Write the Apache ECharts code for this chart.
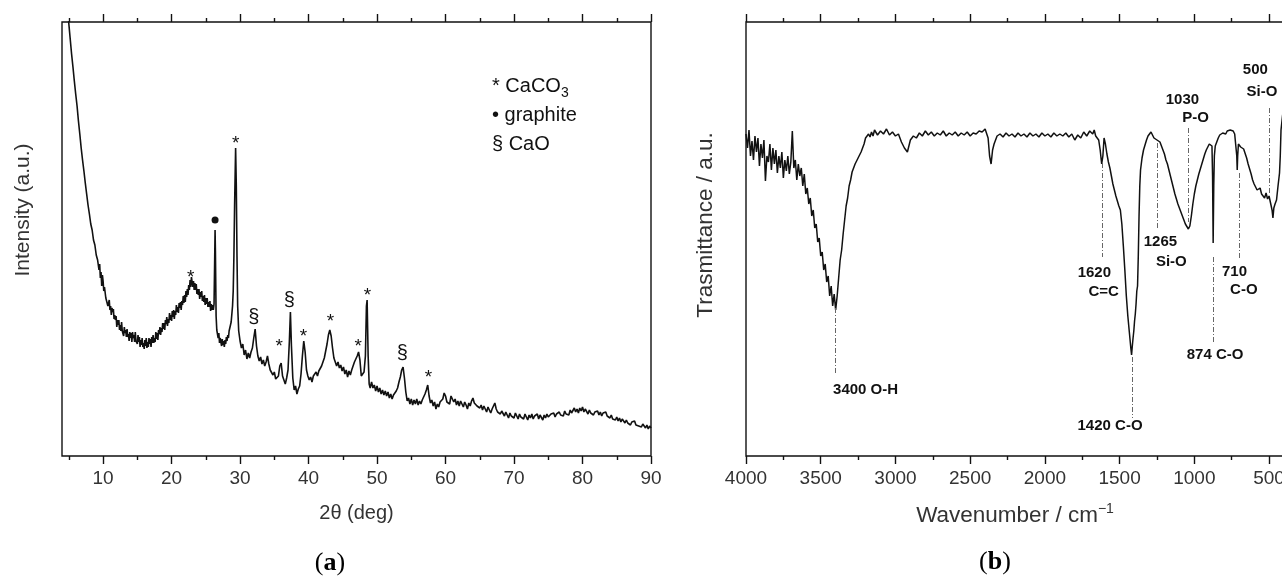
<!DOCTYPE html>
<html>
<head>
<meta charset="utf-8">
<title>XRD and FTIR</title>
<script src="https://cdn.jsdelivr.net/npm/echarts@6.0.0/dist/echarts.min.js"></script>
<style>
  html, body { margin: 0; padding: 0; background: #fff; }
  #chart { width: 1282px; height: 579px; }
</style>
</head>
<body>
<div id="chart"></div>
<script>
'use strict'

// (a) XRD pattern: [2theta in deg, intensity in a.u.]
const XRD_SCAN = [
  [4.9, 440], [5.0, 432], [5.2, 417], [5.4, 402], [5.6, 389], [5.8, 375], [6.0, 362], [6.2, 350],
  [6.4, 335], [6.6, 322], [6.8, 308], [7.0, 296], [7.2, 285], [7.4, 273], [7.6, 262], [7.8, 251],
  [8.0, 242], [8.2, 232], [8.4, 226], [8.6, 216], [8.8, 211], [9.0, 201], [9.2, 196], [9.4, 186],
  [9.5, 192], [9.6, 178], [9.7, 184], [9.8, 170], [9.9, 181],
  [10.0, 175], [10.1, 165], [10.2, 169], [10.3, 170], [10.4, 158], [10.5, 156], [10.6, 160], [10.7, 150],
  [10.8, 153], [10.9, 156], [11.0, 146], [11.1, 150], [11.2, 141], [11.3, 148], [11.4, 144], [11.5, 147],
  [11.6, 137], [11.7, 141], [11.8, 136], [11.9, 140], [12.0, 129], [12.1, 136], [12.2, 131], [12.3, 136],
  [12.4, 126], [12.5, 131], [12.6, 125], [12.7, 134], [12.8, 125], [12.9, 127], [13.0, 120], [13.1, 129],
  [13.2, 123], [13.3, 126], [13.4, 119], [13.5, 127], [13.6, 119], [13.7, 122], [13.8, 115], [13.9, 124],
  [14.0, 118], [14.1, 123], [14.2, 114], [14.3, 124], [14.4, 118], [14.5, 121], [14.6, 114], [14.7, 124],
  [14.8, 115], [14.9, 117], [15.0, 112], [15.1, 121], [15.2, 114], [15.3, 119], [15.4, 109], [15.5, 116],
  [15.6, 111], [15.7, 118], [15.8, 109], [15.9, 113], [16.0, 107], [16.1, 116], [16.2, 110], [16.3, 118],
  [16.4, 108], [16.5, 114], [16.6, 109], [16.7, 118], [16.8, 112], [16.9, 117], [17.0, 109], [17.1, 119],
  [17.2, 113], [17.3, 121], [17.4, 113], [17.5, 118], [17.6, 114], [17.7, 124], [17.8, 117], [17.9, 123],
  [18.0, 116], [18.1, 126], [18.2, 122], [18.3, 129], [18.4, 121], [18.5, 128], [18.6, 124], [18.7, 133],
  [18.8, 127], [18.9, 133], [19.0, 126], [19.1, 136], [19.2, 132], [19.3, 139], [19.4, 130], [19.5, 137],
  [19.6, 133], [19.7, 143], [19.8, 136], [19.9, 141], [20.0, 135], [20.1, 145], [20.2, 139], [20.3, 146],
  [20.4, 137], [20.5, 145], [20.6, 141], [20.7, 151], [20.8, 144], [20.9, 149], [21.0, 143], [21.1, 153],
  [21.2, 148], [21.3, 154], [21.4, 146], [21.5, 155], [21.6, 151], [21.7, 160], [21.8, 153], [21.9, 161],
  [22.0, 154], [22.1, 165], [22.2, 159], [22.3, 167], [22.4, 161], [22.5, 171], [22.6, 166], [22.7, 176],
  [22.8, 169], [22.9, 179], [23.0, 178], [23.1, 169], [23.2, 175], [23.3, 166], [23.4, 173], [23.5, 166],
  [23.6, 172], [23.7, 162], [23.8, 167], [23.9, 161], [24.0, 167], [24.1, 157], [24.2, 164], [24.3, 159],
  [24.4, 165], [24.5, 155], [24.6, 160], [24.7, 154], [24.8, 161], [24.9, 151], [25.0, 158], [25.1, 152],
  [25.2, 158], [25.3, 149], [25.4, 154], [25.5, 149], [25.6, 155], [25.7, 145], [25.8, 152], [25.9, 146],
  [26.0, 151], [26.1, 146], [26.2, 152], [26.3, 200], [26.35, 226], [26.4, 205], [26.5, 140], [26.6, 126],
  [26.7, 122], [26.8, 118], [26.9, 123], [27.0, 113], [27.1, 118], [27.2, 114], [27.3, 110], [27.4, 117],
  [27.5, 111], [27.6, 115], [27.7, 109], [27.8, 116], [27.9, 112], [28.0, 119], [28.1, 115], [28.2, 121],
  [28.3, 118], [28.4, 125], [28.5, 123], [28.6, 131], [28.7, 134], [28.8, 142], [28.9, 150], [29.0, 165],
  [29.1, 200], [29.2, 250], [29.35, 308], [29.45, 270], [29.55, 200], [29.65, 150], [29.8, 125], [30.0, 115],
  [30.2, 108], [30.4, 112], [30.6, 101], [30.8, 106], [31.0, 97], [31.2, 103], [31.4, 98], [31.6, 104],
  [31.8, 108], [32.0, 118], [32.2, 127], [32.4, 110], [32.6, 100], [32.8, 95], [33.0, 99], [33.2, 92],
  [33.4, 96], [33.6, 90], [33.8, 94], [34.0, 100], [34.2, 92], [34.4, 86], [34.6, 88], [34.8, 81],
  [35.0, 84], [35.2, 77], [35.4, 79], [35.6, 80], [35.8, 90], [36.0, 93], [36.2, 80], [36.4, 76],
  [36.6, 72], [36.8, 78], [37.0, 86], [37.2, 115], [37.35, 144], [37.5, 110], [37.7, 78], [37.9, 66],
  [38.1, 70], [38.3, 62], [38.5, 67], [38.7, 70], [38.9, 82], [39.1, 100], [39.3, 115], [39.5, 104],
  [39.7, 86], [39.9, 80], [40.1, 76], [40.3, 79], [40.5, 74], [40.7, 80], [40.9, 78], [41.1, 84],
  [41.3, 80], [41.5, 85], [41.7, 83], [41.9, 90], [42.1, 94], [42.3, 98], [42.5, 105], [42.7, 112],
  [42.9, 121], [43.1, 126], [43.3, 120], [43.5, 108], [43.7, 98], [43.9, 94], [44.1, 90], [44.3, 94],
  [44.5, 88], [44.7, 91], [44.9, 85], [45.1, 89], [45.3, 82], [45.5, 86], [45.7, 79], [45.9, 85],
  [46.1, 81], [46.3, 86], [46.5, 88], [46.7, 94], [46.9, 97], [47.1, 100], [47.3, 104], [47.5, 96],
  [47.7, 80], [47.9, 78], [48.1, 84], [48.3, 100], [48.45, 150], [48.55, 156], [48.7, 100], [48.85, 72],
  [49.0, 68], [49.2, 74], [49.4, 68], [49.6, 71], [49.8, 65], [50.0, 70], [50.2, 64], [50.4, 68],
  [50.6, 62], [50.8, 66], [51.0, 61], [51.2, 65], [51.4, 60], [51.6, 64], [51.8, 58], [52.0, 62],
  [52.2, 57], [52.4, 61], [52.6, 60], [52.8, 65], [53.0, 68], [53.2, 74], [53.4, 79], [53.6, 86],
  [53.8, 89], [54.0, 78], [54.2, 64], [54.4, 55], [54.6, 58], [54.8, 52], [55.0, 57], [55.2, 51],
  [55.4, 56], [55.6, 52], [55.8, 57], [56.0, 51], [56.2, 55], [56.4, 52], [56.6, 56], [56.8, 58],
  [57.0, 62], [57.2, 66], [57.4, 71], [57.6, 60], [57.8, 53], [58.0, 56], [58.2, 50], [58.4, 54],
  [58.6, 47], [58.8, 52], [59.0, 49], [59.2, 54], [59.4, 52], [59.6, 57], [59.8, 63], [60.0, 60],
  [60.2, 54], [60.4, 56], [60.6, 52], [60.8, 60], [61.0, 57], [61.2, 54], [61.4, 57], [61.6, 51],
  [61.8, 55], [62.0, 50], [62.2, 55], [62.4, 52], [62.6, 49], [62.8, 54], [63.0, 51], [63.2, 47],
  [63.4, 53], [63.6, 50], [63.8, 55], [64.0, 58], [64.2, 53], [64.4, 55], [64.6, 50], [64.8, 52],
  [65.0, 48], [65.2, 51], [65.4, 46], [65.6, 50], [65.8, 47], [66.0, 44], [66.2, 49], [66.4, 46],
  [66.6, 43], [66.8, 47], [67.0, 49], [67.2, 53], [67.4, 47], [67.6, 44], [67.8, 46], [68.0, 42],
  [68.2, 45], [68.4, 43], [68.6, 40], [68.8, 44], [69.0, 41], [69.2, 38], [69.4, 43], [69.6, 40],
  [69.8, 42], [70.0, 38], [70.2, 43], [70.4, 40], [70.6, 37], [70.8, 42], [71.0, 39], [71.2, 41],
  [71.4, 37], [71.6, 42], [71.8, 39], [72.0, 36], [72.2, 41], [72.4, 38], [72.6, 42], [72.8, 37],
  [73.0, 40], [73.2, 38], [73.4, 42], [73.6, 37], [73.8, 41], [74.0, 39], [74.2, 36], [74.4, 41],
  [74.6, 38], [74.8, 42], [75.0, 39], [75.2, 37], [75.4, 42], [75.6, 40], [75.8, 43], [76.0, 39],
  [76.2, 42], [76.4, 40], [76.6, 44], [76.8, 41], [77.0, 43], [77.2, 40], [77.4, 45], [77.6, 42],
  [77.8, 44], [78.0, 41], [78.2, 46], [78.4, 43], [78.6, 45], [78.8, 48], [79.0, 44], [79.2, 47],
  [79.4, 43], [79.6, 48], [79.8, 45], [80.0, 49], [80.2, 44], [80.4, 47], [80.6, 45], [80.8, 42],
  [81.0, 46], [81.2, 43], [81.4, 45], [81.6, 41], [81.8, 44], [82.0, 42], [82.2, 45], [82.4, 41],
  [82.6, 44], [82.8, 40], [83.0, 43], [83.2, 41], [83.4, 44], [83.6, 40], [83.8, 42], [84.0, 38],
  [84.2, 41], [84.4, 37], [84.6, 39], [84.8, 36], [85.0, 39], [85.2, 35], [85.4, 38], [85.6, 34],
  [85.8, 37], [86.0, 35], [86.2, 33], [86.4, 36], [86.6, 33], [86.8, 35], [87.0, 31], [87.2, 34],
  [87.4, 32], [87.6, 35], [87.8, 31], [88.0, 33], [88.2, 30], [88.4, 32], [88.6, 29], [88.8, 32],
  [89.0, 30], [89.2, 28], [89.4, 31], [89.6, 27], [89.8, 30], [90.0, 28]
]
const XRD_RANGE = [4, 90]
const XRD_TICKS = [10, 20, 30, 40, 50, 60, 70, 80, 90]
const XRD_MINOR_TICKS = [5, 15, 25, 35, 45, 55, 65, 75, 85]

// phase marks above the reflections
const XRD_MARK_ANGLE = [22.8, 26.35, 29.35, 32.0, 35.7, 37.2, 39.25, 43.2, 47.25, 48.6, 53.7, 57.5]
const XRD_MARK_LEVEL = [183, 236, 317, 139, 114, 156, 124, 139, 114, 165, 103, 83]
const XRD_MARK_PHASE = ['CaCO3', 'graphite', 'CaCO3', 'CaO', 'CaCO3', 'CaO', 'CaCO3', 'CaCO3', 'CaCO3', 'CaCO3', 'CaO', 'CaCO3']
const PHASE_GLYPH = { CaCO3: '*', CaO: '§' }

// (b) FTIR spectrum: [wavenumber in cm-1, transmittance in a.u.]
const IR_SPECTRUM = [
  [4000, 322], [3990, 308], [3980, 326], [3970, 300], [3960, 315], [3950, 296], [3940, 320], [3930, 304],
  [3920, 318], [3910, 290], [3900, 312], [3890, 298], [3880, 316], [3870, 275], [3860, 300], [3850, 294],
  [3840, 312], [3830, 286], [3820, 308], [3810, 292], [3800, 306], [3790, 283], [3780, 300], [3770, 288],
  [3760, 304], [3750, 278], [3740, 296], [3730, 285], [3720, 300], [3710, 282], [3700, 294], [3690, 325],
  [3680, 288], [3670, 296], [3660, 276], [3650, 292], [3640, 280], [3630, 288], [3620, 270], [3610, 282],
  [3600, 262], [3590, 268], [3580, 252], [3570, 258], [3560, 240], [3550, 246], [3540, 228], [3530, 232],
  [3520, 214], [3510, 218], [3500, 200], [3490, 204], [3480, 186], [3470, 192], [3460, 174], [3450, 180],
  [3440, 160], [3430, 170], [3420, 150], [3410, 162], [3400, 146], [3390, 160], [3380, 178], [3370, 196],
  [3360, 206], [3350, 222], [3340, 236], [3330, 250], [3320, 258], [3310, 270], [3300, 276], [3290, 284],
  [3280, 286], [3270, 292], [3260, 294], [3250, 298], [3240, 298], [3230, 304], [3220, 308], [3210, 312],
  [3200, 318], [3190, 316], [3180, 322], [3170, 319], [3160, 324], [3150, 320], [3140, 326], [3120, 321],
  [3100, 325], [3080, 322], [3060, 327], [3040, 321], [3020, 324], [3000, 320], [2980, 322], [2960, 314],
  [2940, 308], [2920, 304], [2910, 310], [2900, 316], [2880, 320], [2860, 318], [2840, 323], [2820, 320],
  [2800, 325], [2780, 321], [2760, 324], [2740, 320], [2720, 323], [2700, 321], [2680, 325], [2660, 320],
  [2640, 323], [2620, 321], [2600, 324], [2580, 320], [2560, 323], [2540, 321], [2520, 324], [2500, 320],
  [2480, 323], [2460, 322], [2440, 325], [2420, 324], [2400, 327], [2380, 318], [2370, 300], [2360, 292],
  [2350, 306], [2340, 312], [2330, 316], [2320, 320], [2300, 322], [2280, 319], [2260, 323], [2240, 320],
  [2220, 322], [2200, 319], [2180, 323], [2160, 320], [2140, 322], [2120, 319], [2100, 323], [2080, 320],
  [2060, 322], [2040, 319], [2020, 323], [2000, 320], [1980, 322], [1960, 319], [1940, 323], [1920, 320],
  [1900, 322], [1880, 320], [1860, 323], [1840, 319], [1820, 322], [1800, 316], [1780, 321], [1760, 318],
  [1740, 324], [1720, 320], [1700, 325], [1680, 322], [1670, 326], [1660, 320], [1650, 322], [1640, 316],
  [1630, 306], [1620, 292], [1612, 300], [1604, 318], [1595, 312], [1585, 302], [1575, 294], [1565, 288],
  [1555, 280], [1545, 272], [1535, 266], [1525, 260], [1515, 255], [1505, 250], [1495, 246], [1485, 232],
  [1475, 210], [1465, 186], [1455, 160], [1445, 140], [1435, 124], [1425, 108], [1420, 101], [1415, 110],
  [1410, 118], [1405, 125], [1400, 135], [1395, 142], [1390, 152], [1385, 165], [1380, 170], [1375, 200],
  [1370, 240], [1365, 270], [1360, 286], [1350, 298], [1340, 306], [1330, 311], [1320, 316], [1310, 320],
  [1300, 322], [1290, 324], [1280, 323], [1270, 318], [1260, 318], [1250, 316], [1240, 315], [1230, 314],
  [1220, 310], [1210, 306], [1200, 302], [1190, 296], [1180, 292], [1170, 286], [1160, 280], [1150, 274],
  [1140, 268], [1130, 262], [1120, 257], [1110, 252], [1100, 248], [1090, 244], [1080, 240], [1070, 236],
  [1060, 232], [1050, 230], [1040, 227], [1035, 226], [1030, 230], [1020, 240], [1010, 252], [1000, 262],
  [990, 270], [980, 276], [970, 282], [960, 287], [950, 292], [940, 297], [930, 302], [920, 306],
  [910, 309], [900, 312], [890, 313], [882, 310], [878, 280], [874, 213], [870, 270], [866, 300],
  [860, 310], [850, 314], [840, 318], [830, 321], [820, 322], [810, 323], [800, 324], [790, 322],
  [780, 325], [770, 323], [760, 326], [750, 324], [740, 325], [730, 322], [720, 320], [716, 300],
  [713, 286], [710, 300], [705, 312], [700, 310], [690, 309], [680, 308], [670, 307], [660, 305],
  [650, 298], [640, 292], [630, 287], [620, 282], [610, 276], [600, 272], [590, 269], [580, 266],
  [570, 264], [560, 268], [550, 262], [540, 264], [530, 258], [520, 263], [510, 257], [500, 260],
  [490, 253], [480, 246], [474, 238], [468, 248], [460, 252], [450, 256], [440, 270], [430, 283],
  [425, 300], [420, 326], [410, 340], [400, 350]
]
const IR_RANGE = [400, 4000]
const IR_TICKS = [4000, 3500, 3000, 2500, 2000, 1500, 1000, 500]
const IR_MINOR_TICKS = [3750, 3250, 2750, 2250, 1750, 1250, 750]

// band assignments: dashed guide from / to, then text lines
const IR_BAND_WAVENUMBER = [3400, 1615, 1415, 1245, 1040, 874, 702, 500]
const IR_BAND_FROM = [148, 293, 99, 313, 328, 199, 283, 348]
const IR_BAND_TO = [83, 199, 38, 226, 234, 114, 196, 263]
const IR_LABEL_TEXT = ['3400 O-H', '1420 C-O', '874 C-O', '1620', 'C=C', '1265', 'Si-O', '1030', 'P-O', '710', 'C-O', '500', 'Si-O']
const IR_LABEL_WAVENUMBER = [3200, 1564, 861, 1669, 1607, 1227, 1154, 1080, 991, 731, 669, 592, 547]
const IR_LABEL_LEVEL = [66, 30, 101, 183, 164, 214, 194, 356, 338, 184, 166, 386, 364]

const LEVEL_RANGE = [0, 434]

const SANS = '"Liberation Sans", Arial, sans-serif'
const SERIF = '"Liberation Serif", "Times New Roman", serif'
const INK = '#111'
const TEXT = '#333'

function tickAxis (gridIndex, position, range, ticks, length, options = {}) {
  const nameSize = options.nameSize || 20
  return {
    type: 'value',
    gridIndex,
    position,
    min: range[0],
    max: range[1],
    inverse: !!options.inverse,
    name: options.name || '',
    nameLocation: 'middle',
    nameGap: 57 - nameSize / 2,
    nameTextStyle: {
      fontSize: nameSize,
      fontFamily: SANS,
      color: TEXT,
      rich: { sup: { fontSize: 14, fontFamily: SANS, color: TEXT, padding: [0, 0, 15, 0] } }
    },
    axisLine: { show: false },
    splitLine: { show: false },
    axisTick: {
      show: true,
      customValues: ticks,
      length,
      lineStyle: { color: INK, width: 1.4 }
    },
    axisLabel: options.labels
      ? {
          show: true,
          customValues: ticks,
          margin: 13,
          fontSize: 19,
          fontFamily: SANS,
          color: TEXT,
          formatter: v => String(v)
        }
      : { show: false }
  }
}

function hiddenLevelAxis (gridIndex) {
  return { type: 'value', gridIndex, show: false, min: LEVEL_RANGE[0], max: LEVEL_RANGE[1] }
}

function buildXrdMarks () {
  const marks = []
  XRD_MARK_ANGLE.forEach((angle, i) => {
    const glyph = PHASE_GLYPH[XRD_MARK_PHASE[i]]
    if (!glyph) return
    marks.push({
      value: [angle, XRD_MARK_LEVEL[i]],
      name: glyph,
      label: glyph === '*'
        ? { fontSize: 19, offset: [0, 5] }
        : { fontSize: 20, offset: [0, 0] }
    })
  })
  return marks
}

function buildGraphiteMarks () {
  return XRD_MARK_ANGLE
    .map((angle, i) => [angle, XRD_MARK_LEVEL[i], XRD_MARK_PHASE[i]])
    .filter(item => item[2] === 'graphite')
    .map(item => [item[0], item[1]])
}

function buildBandLines () {
  return IR_BAND_WAVENUMBER.map((w, i) => [
    { coord: [w, IR_BAND_FROM[i]] },
    { coord: [w, IR_BAND_TO[i]] }
  ])
}

function buildBandLabels () {
  return IR_LABEL_TEXT.map((text, i) => ({
    value: [IR_LABEL_WAVENUMBER[i], IR_LABEL_LEVEL[i]],
    name: text
  }))
}

function textLabelSeries (name, xAxisIndex, yAxisIndex, data, labelStyle) {
  return {
    name,
    type: 'scatter',
    xAxisIndex,
    yAxisIndex,
    symbol: 'circle',
    symbolSize: 1,
    silent: true,
    itemStyle: { color: 'rgba(0,0,0,0)', opacity: 1 },
    label: Object.assign({
      show: true,
      position: 'inside',
      formatter: '{b}',
      fontFamily: SANS,
      color: INK,
      opacity: 1
    }, labelStyle),
    data
  }
}

const chart = echarts.init(document.getElementById('chart'), null, { renderer: 'canvas' })

chart.setOption({
  animation: false,
  backgroundColor: '#fff',
  grid: [
    { left: 62, top: 22, width: 589, height: 434, outerBoundsMode: 'none', containLabel: false, show: true, borderColor: INK, borderWidth: 1.4, backgroundColor: 'transparent' },
    { left: 746, top: 22, width: 538, height: 434, outerBoundsMode: 'none', containLabel: false, show: true, borderColor: INK, borderWidth: 1.4, backgroundColor: 'transparent' }
  ],
  xAxis: [
    tickAxis(0, 'bottom', XRD_RANGE, XRD_TICKS, 8, { labels: true, name: '2θ (deg)', nameSize: 20 }),
    tickAxis(0, 'bottom', XRD_RANGE, XRD_MINOR_TICKS, 4),
    tickAxis(0, 'top', XRD_RANGE, XRD_TICKS, 8),
    tickAxis(0, 'top', XRD_RANGE, XRD_MINOR_TICKS, 4),
    tickAxis(1, 'bottom', IR_RANGE, IR_TICKS, 8, { labels: true, inverse: true, name: 'Wavenumber / cm{sup|−1}', nameSize: 22.5 }),
    tickAxis(1, 'bottom', IR_RANGE, IR_MINOR_TICKS, 4, { inverse: true }),
    tickAxis(1, 'top', IR_RANGE, IR_TICKS, 8, { inverse: true }),
    tickAxis(1, 'top', IR_RANGE, IR_MINOR_TICKS, 4, { inverse: true })
  ],
  yAxis: [hiddenLevelAxis(0), hiddenLevelAxis(1)],
  series: [
    {
      name: 'XRD',
      type: 'line',
      xAxisIndex: 0,
      yAxisIndex: 0,
      symbol: 'none',
      clip: true,
      lineStyle: { color: INK, width: 1.6 },
      data: XRD_SCAN
    },
    textLabelSeries('phases', 0, 0, buildXrdMarks(), {}),
    {
      name: 'graphite',
      type: 'scatter',
      xAxisIndex: 0,
      yAxisIndex: 0,
      symbol: 'circle',
      symbolSize: 7,
      silent: true,
      itemStyle: { color: INK, opacity: 1 },
      data: buildGraphiteMarks()
    },
    {
      name: 'FTIR',
      type: 'line',
      xAxisIndex: 4,
      yAxisIndex: 1,
      symbol: 'none',
      clip: true,
      lineStyle: { color: INK, width: 1.5 },
      data: IR_SPECTRUM,
      markLine: {
        silent: true,
        symbol: 'none',
        label: { show: false },
        lineStyle: { color: '#666', width: 1, type: [5, 2, 1, 2] },
        data: buildBandLines()
      }
    },
    textLabelSeries('bands', 4, 1, buildBandLabels(), { fontSize: 15, fontWeight: 'bold' })
  ],
  graphic: [
    {
      type: 'text', x: 23, y: 210, rotation: Math.PI / 2,
      style: { text: 'Intensity (a.u.)', fontSize: 21, fontFamily: SANS, fill: TEXT, align: 'center', verticalAlign: 'middle' }
    },
    {
      type: 'text', x: 706, y: 225, rotation: Math.PI / 2,
      style: { text: 'Trasmittance / a.u.', fontSize: 22.5, fontFamily: SANS, fill: TEXT, align: 'center', verticalAlign: 'middle' }
    },
    {
      type: 'text', x: 492, y: 86,
      style: {
        text: '* CaCO{sub|3}', fontSize: 20, fontFamily: SANS, fill: INK, align: 'left', verticalAlign: 'middle',
        rich: { sub: { fontSize: 14, fontFamily: SANS, fill: INK, padding: [14, 0, 0, 0] } }
      }
    },
    {
      type: 'text', x: 492, y: 115,
      style: { text: '• graphite', fontSize: 20, fontFamily: SANS, fill: INK, align: 'left', verticalAlign: 'middle' }
    },
    {
      type: 'text', x: 492, y: 144,
      style: { text: '§ CaO', fontSize: 20, fontFamily: SANS, fill: INK, align: 'left', verticalAlign: 'middle' }
    },
    {
      type: 'text', x: 330, y: 563,
      style: {
        text: '({b|a})', fontSize: 26, fontFamily: SERIF, fill: '#000', align: 'center', verticalAlign: 'middle',
        rich: { b: { fontSize: 26, fontFamily: SERIF, fontWeight: 'bold', fill: '#000' } }
      }
    },
    {
      type: 'text', x: 995, y: 562,
      style: {
        text: '({b|b})', fontSize: 26, fontFamily: SERIF, fill: '#000', align: 'center', verticalAlign: 'middle',
        rich: { b: { fontSize: 26, fontFamily: SERIF, fontWeight: 'bold', fill: '#000' } }
      }
    }
  ]
})
</script>
</body>
</html>
